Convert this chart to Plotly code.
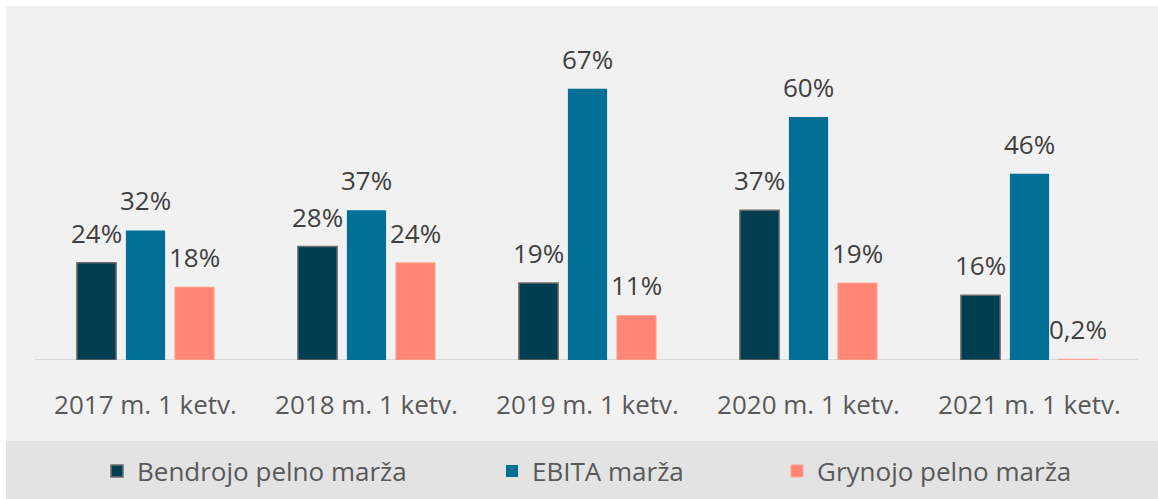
import plotly.graph_objects as go

categories = ["2017 m. 1 ketv.", "2018 m. 1 ketv.", "2019 m. 1 ketv.", "2020 m. 1 ketv.", "2021 m. 1 ketv."]
series_names = ["Bendrojo pelno marža", "EBITA marža", "Grynojo pelno marža"]
bendrojo = [24, 28, 19, 37, 16]
ebita = [32, 37, 67, 60, 46]
grynojo = [18, 24, 11, 19, 0.2]

colors = ["#013e51", "#026f96", "#ff8674"]
line_colors = ["#6b6b6b", "#026f96", "#ffa898"]
line_widths = [1.5, 0, 1]

W, H = 1158, 499
L, R, T, B = 35, 18, 20, 139
pw, ph = W - L - R, H - T - B
BARGAP, GROUPGAP = 0.335, 0.2


def px_x(p):
    return (p - L) / pw


def px_y(p):
    return (H - B - p) / ph


def label(v):
    s = f"{v:g}%"
    return s.replace(".", ",")


slot = pw / len(categories) * (1 - BARGAP) / len(series_names)

fig = go.Figure()
legend_x = [97, 492, 777]
annotations = []
for i, (name, vals) in enumerate(zip(series_names, [bendrojo, ebita, grynojo])):
    fig.add_trace(go.Bar(
        x=categories,
        y=[v / 100 for v in vals],
        name=name,
        marker=dict(color=colors[i], line=dict(color=line_colors[i], width=line_widths[i])),
        hovertemplate="%{x}<br>" + name + ": %{customdata}<extra></extra>",
        customdata=[label(v) for v in vals],
        legend="legend" if i == 0 else f"legend{i+1}",
    ))
    for c, v in zip(categories, vals):
        annotations.append(dict(
            x=c, y=v / 100, xref="x", yref="y", text=label(v), showarrow=False,
            xanchor="center", yanchor="bottom", xshift=(i - 1) * slot, yshift=10,
            font=dict(size=26, color="#404040", family="Open Sans"),
        ))

legend_common = dict(
    orientation="h", yanchor="middle", xanchor="left", y=px_y(471),
    bgcolor="rgba(0,0,0,0)", font=dict(size=26, color="#595959", family="Open Sans"),
)
fig.update_layout(
    width=W, height=H,
    margin=dict(l=L, r=R, t=T, b=B, autoexpand=False),
    paper_bgcolor="white",
    plot_bgcolor="rgba(0,0,0,0)",
    barmode="group",
    bargap=BARGAP,
    bargroupgap=GROUPGAP,
    font=dict(family="Open Sans", color="#595959"),
    showlegend=True,
    legend=dict(x=px_x(legend_x[0]), **legend_common),
    legend2=dict(x=px_x(legend_x[1]), **legend_common),
    legend3=dict(x=px_x(legend_x[2]), **legend_common),
    annotations=annotations,
    shapes=[
        dict(type="rect", xref="paper", yref="paper", x0=px_x(6), x1=px_x(W), y0=px_y(441), y1=px_y(6),
             fillcolor="#f1f1f1", line=dict(width=0), layer="below"),
        dict(type="rect", xref="paper", yref="paper", x0=px_x(6), x1=px_x(W), y0=px_y(H), y1=px_y(441),
             fillcolor="#e3e3e3", line=dict(width=0), layer="below"),
        dict(type="line", xref="paper", yref="y", x0=0, x1=(1138 - L) / pw, y0=0, y1=0,
             line=dict(color="#d9d9d9", width=2), layer="below"),
    ],
)
fig.update_xaxes(
    showline=False,
    ticks="outside", ticklen=22, tickcolor="rgba(0,0,0,0)",
    tickfont=dict(size=26, color="#595959", family="Open Sans"),
    showgrid=False, zeroline=False,
)
fig.update_yaxes(range=[0, ph / 405], visible=False, showgrid=False, zeroline=False)

fig.write_html("out.html", config={"displayModeBar": False},
               post_script="document.body.style.margin='0';document.body.style.overflow='hidden';")
